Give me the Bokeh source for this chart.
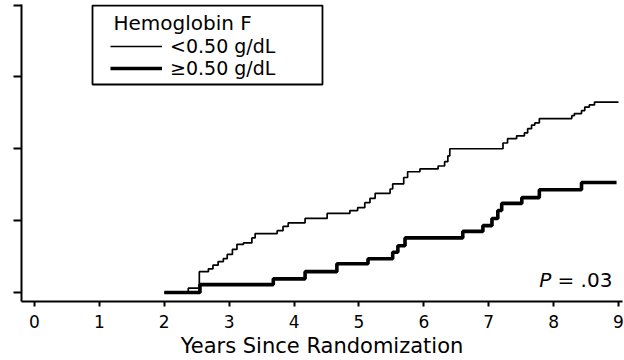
from bokeh.plotting import figure
from bokeh.models import Range1d, FixedTicker, Legend, LegendItem, Label, BoxAnnotation
from bokeh.embed import file_html
from bokeh.resources import INLINE

# Years since randomization at each step, and cumulative incidence (%)
years_low = [2.0, 2.37, 2.54, 2.68, 2.75, 2.83, 2.91, 2.97, 3.05, 3.12, 3.22, 3.35, 3.40,
             3.74, 3.83, 3.91, 4.17, 4.51, 4.86, 4.98, 5.09, 5.17, 5.25, 5.48, 5.52,
             5.69, 5.75, 5.94, 6.22, 6.32, 6.37, 6.40, 7.22, 7.29, 7.43, 7.55, 7.60,
             7.66, 7.71, 7.78, 8.28, 8.32, 8.43, 8.48, 8.55, 8.63, 9.0]
risk_low = [0, 0.6, 2.9, 3.3, 3.8, 4.3, 4.7, 5.3, 6.0, 6.7, 6.9, 7.6, 8.2,
            8.6, 9.2, 9.7, 10.3, 11.0, 11.4, 11.8, 12.5, 13.1, 13.8, 14.4, 15.1,
            16.0, 16.8, 17.2, 17.6, 18.2, 19.0, 20.0, 20.8, 21.4, 21.8, 22.2, 22.8,
            23.3, 23.6, 24.2, 24.6, 24.9, 25.3, 25.8, 26.1, 26.5, 26.5]

years_high = [2.0, 2.55, 3.68, 4.17, 4.66, 5.14, 5.52, 5.60, 5.71, 6.60, 6.91, 7.05,
              7.14, 7.20, 7.51, 7.78, 8.43, 8.97]
risk_high = [0, 1.1, 1.9, 2.9, 4.0, 4.7, 5.6, 6.5, 7.6, 8.5, 9.3, 10.3,
             11.4, 12.4, 13.2, 14.3, 15.3, 15.3]

x_ticks = [0, 1, 2, 3, 4, 5, 6, 7, 8, 9]
y_ticks = [0, 10, 20, 30, 40]

legend_title = "Hemoglobin F"
label_low = "<0.50 g/dL"
label_high = "\u22650.50 g/dL"
p_value_text = "= .03"

FONT = "DejaVu Sans"

p = figure(width=624, height=360,
           x_range=Range1d(-0.2003, 9.0616), y_range=Range1d(-1.252, 40.07),
           output_backend="svg", toolbar_location=None,
           min_border_left=21, min_border_right=2, min_border_top=4, min_border_bottom=0)

p.xgrid.visible = False
p.ygrid.visible = False
p.outline_line_color = None
p.background_fill_color = "white"
p.border_fill_color = "white"

r_low = p.step(years_low, risk_low, mode="after", line_color="black", line_width=1.7)
r_high = p.step(years_high, risk_high, mode="after", line_color="black", line_width=3.6)

xa = p.xaxis[0]
xa.ticker = FixedTicker(ticks=x_ticks)
xa.major_tick_in = 0
xa.major_tick_out = 5
xa.minor_tick_line_color = None
xa.axis_line_width = 2
xa.major_tick_line_width = 2
xa.axis_line_color = "black"
xa.major_tick_line_color = "black"
xa.major_label_text_font = FONT
xa.major_label_text_font_size = "17px"
xa.major_label_text_color = "black"
xa.major_label_standoff = 8
xa.axis_label = "Years Since Randomization"
xa.axis_label_text_font = FONT
xa.axis_label_text_font_size = "21px"
xa.axis_label_text_font_style = "normal"
xa.axis_label_text_color = "black"
xa.axis_label_standoff = 3

ya = p.yaxis[0]
ya.ticker = FixedTicker(ticks=y_ticks)
ya.major_tick_in = 0
ya.major_tick_out = 8
ya.minor_tick_line_color = None
ya.axis_line_width = 2
ya.major_tick_line_width = 2
ya.axis_line_color = "black"
ya.major_tick_line_color = "black"
ya.major_label_overrides = {t: "" for t in y_ticks}
ya.major_label_standoff = 0

# legend frame and title
p.add_layout(BoxAnnotation(left=0.894, right=4.438, bottom=28.94, top=39.93,
                           fill_color="white", fill_alpha=1.0,
                           line_color="black", line_alpha=1.0, line_width=1.8,
                           level="overlay"))
p.add_layout(Label(x=1.217, y=37.43, text=legend_title, text_font=FONT,
                   text_font_size="20px", text_baseline="middle", text_color="black",
                   level="overlay"))

legend = Legend(items=[LegendItem(label=label_low, renderers=[r_low]),
                       LegendItem(label=label_high, renderers=[r_high])],
                location=(89, 222))
legend.label_text_font = FONT
legend.label_text_font_size = "19px"
legend.label_text_color = "black"
legend.glyph_width = 52
legend.glyph_height = 18
legend.label_height = 18
legend.label_standoff = 8
legend.padding = 0
legend.spacing = 0
legend.margin = 0
legend.border_line_color = None
legend.background_fill_alpha = 0
p.add_layout(legend)

p.add_layout(Label(x=7.78, y=1.67, text="P", text_font=FONT, text_font_size="20px",
                   text_font_style="italic", text_baseline="middle", text_color="black"))
p.add_layout(Label(x=8.06, y=1.67, text=p_value_text, text_font=FONT, text_font_size="20px",
                   text_baseline="middle", text_color="black"))

open("out.html", "w").write(file_html(p, INLINE))
